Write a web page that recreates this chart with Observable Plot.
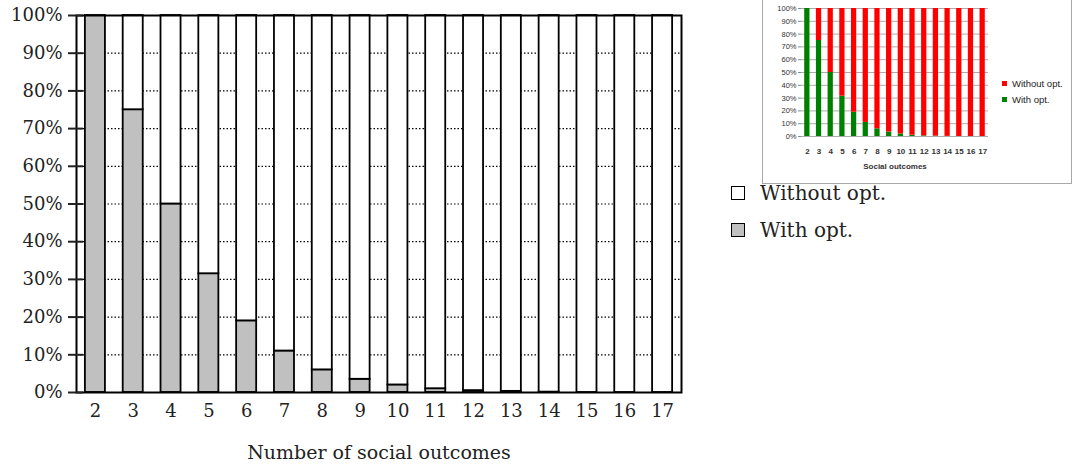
<!DOCTYPE html>
<html>
<head>
<meta charset="utf-8">
<script src="https://cdn.jsdelivr.net/npm/d3@7"></script>
<script src="https://cdn.jsdelivr.net/npm/@observablehq/plot@0.6"></script>
<style>
  html, body { margin: 0; padding: 0; background: #fff; }
  #wrap { position: relative; width: 1076px; height: 467px; overflow: hidden; }
  #main { position: absolute; left: 0; top: 0; }
  .leg { position: absolute; font-family: "DejaVu Serif", serif; font-size: 20px; color: #222; display: flex; align-items: center; }
  .leg .sw { width: 12px; height: 12px; border: 1.6px solid #000; margin-right: 15px; }
  #inset { position: absolute; left: 762px; top: -3px; width: 308px; height: 185px; border: 1px solid #a8a8a8; background: #fff; }
  #insetPlot { position: absolute; left: 0; top: 0; }
  .ileg { position: absolute; font-family: "Liberation Sans", sans-serif; font-size: 9.5px; color: #222; display: flex; align-items: center; }
  .ileg .sw { width: 5px; height: 5px; margin-right: 5px; }
</style>
</head>
<body>
<div id="wrap">
  <div id="main"></div>
  <div id="inset"><div id="insetPlot"></div></div>
</div>
<script>
const categories = ["2","3","4","5","6","7","8","9","10","11","12","13","14","15","16","17"];
const withOpt    = [100, 75, 50, 31.5, 19, 11, 6, 3.5, 2, 1, 0.5, 0.3, 0.1, 0, 0, 0];
const withoutOpt = [0, 25, 50, 68.5, 81, 89, 94, 96.5, 98, 99, 99.5, 99.7, 99.9, 100, 100, 100];
const seriesNames = ["With opt.", "Without opt."];
const yTicks = [0,10,20,30,40,50,60,70,80,90,100];
const gridTicks = [10,20,30,40,50,60,70,80,90];

const rows = [];
categories.forEach((c, i) => {
  rows.push({n: c, series: seriesNames[0], value: withOpt[i]});
  rows.push({n: c, series: seriesNames[1], value: withoutOpt[i]});
});

const main = Plot.plot({
  width: 720, height: 467,
  marginLeft: 76, marginRight: 39, marginTop: 15, marginBottom: 75,
  style: {fontFamily: "DejaVu Serif, serif", fontSize: "18px", color: "#222", background: "white"},
  x: {domain: categories, paddingInner: 0.47, paddingOuter: 0.235, round: false},
  y: {domain: [0, 100]},
  color: {domain: seriesNames, range: ["#c0c0c0", "#ffffff"]},
  marks: [
    Plot.gridY(gridTicks, {stroke: "#000", strokeOpacity: 1, strokeWidth: 1.2, strokeDasharray: "1.5,2"}),
    Plot.barY(rows, {x: "n", y: "value", fill: "series", stroke: "#000", strokeWidth: 1.8,
      order: seriesNames}),
    Plot.frame({stroke: "#000", strokeWidth: 2}),
    Plot.axisY(yTicks, {tickSize: 8, tickPadding: 6, strokeWidth: 2, tickFormat: d => d + "%", label: null}),
    Plot.axisY(yTicks, {tickSize: -7, strokeWidth: 2, text: null, label: null}),
    Plot.axisX({tickSize: 0, tickPadding: 12, label: null}),
    Plot.axisX({tickSize: 0, text: null, fontSize: "19px", label: "Number of social outcomes", labelAnchor: "center", labelArrow: "none", labelOffset: 66})
  ]
});
document.getElementById("main").appendChild(main);

// main legend
const legendItems = [
  {name: "Without opt.", fill: "#ffffff", top: 181},
  {name: "With opt.", fill: "#c0c0c0", top: 218}
];
legendItems.forEach(it => {
  const d = document.createElement("div");
  d.className = "leg";
  d.style.left = "731px";
  d.style.top = it.top + "px";
  d.innerHTML = `<div class="sw" style="background:${it.fill}"></div><span>${it.name}</span>`;
  document.getElementById("wrap").appendChild(d);
});

// inset (small Excel-style chart)
const inset = Plot.plot({
  width: 235, height: 185,
  marginLeft: 38, marginRight: 10, marginTop: 10, marginBottom: 47,
  style: {fontFamily: "Liberation Sans, sans-serif", fontSize: "7.5px", color: "#333", background: "transparent"},
  x: {domain: categories, paddingInner: 0.55, paddingOuter: 0.275, round: false},
  y: {domain: [0, 100]},
  color: {domain: seriesNames, range: ["#008000", "#ff0000"]},
  marks: [
    Plot.gridY(yTicks, {stroke: "#888", strokeOpacity: 1, strokeWidth: 0.7}),
    Plot.barY(rows, {x: "n", y: "value", fill: "series", order: seriesNames}),
    Plot.axisY(yTicks, {tickSize: 3, tickPadding: 2, stroke: "#888", tickFormat: d => d + "%", label: null}),
    Plot.axisX({tickSize: 0, tickPadding: 12, fontSize: "8px", label: "Social outcomes", labelAnchor: "center", labelArrow: "none", labelOffset: 32, fontWeight: "bold"})
  ]
});
document.getElementById("insetPlot").appendChild(inset);

const insetLegend = [
  {name: "Without opt.", fill: "#ff0000", top: 80},
  {name: "With opt.", fill: "#008000", top: 96}
];
insetLegend.forEach(it => {
  const d = document.createElement("div");
  d.className = "ileg";
  d.style.left = "239px";
  d.style.top = it.top + "px";
  d.innerHTML = `<div class="sw" style="background:${it.fill}"></div><span>${it.name}</span>`;
  document.getElementById("inset").appendChild(d);
});
</script>
</body>
</html>
